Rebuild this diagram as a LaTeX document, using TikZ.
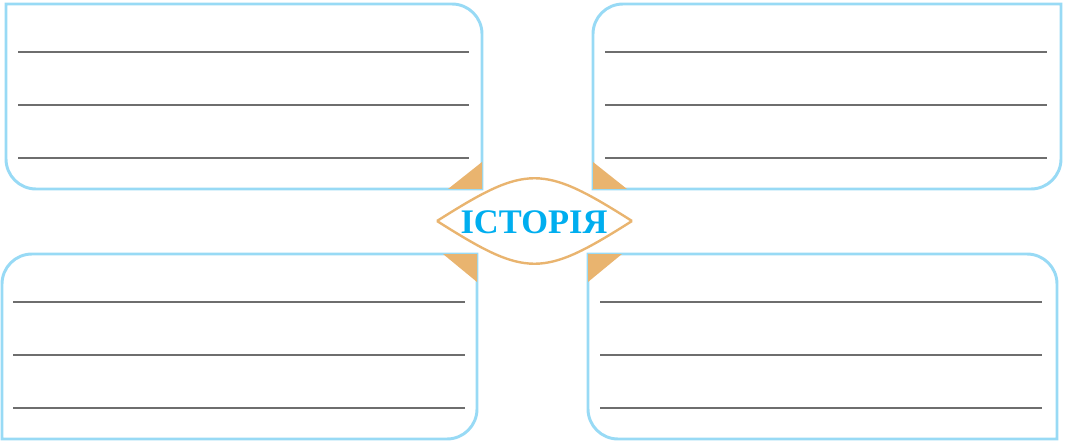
\documentclass[tikz,border=0pt]{standalone}
\usepackage{fontspec}
\usepackage{tikz}
\newfontfamily\titlefont{Liberation Serif}
\definecolor{boxblue}{HTML}{98DAF5}
\definecolor{tipgold}{HTML}{E9B46F}
\definecolor{titleblue}{HTML}{00AEEF}
\definecolor{rulegray}{HTML}{6E6E6E}

\begin{document}
\begin{tikzpicture}[x=0.025cm, y=0.025cm,
	box/.style={draw=boxblue, line width=2.1pt},
	rule/.style={draw=rulegray, line width=0.8pt},
	tip/.style={fill=tipgold},
	eye/.style={draw=tipgold, line width=1.7pt}]
			%%%%% START %%%%%
			\useasboundingbox (0, 0) rectangle (1065, 442);
			
			% top left
			\draw[box] (6, 438) -- (452, 438) arc (90:0:30) -- (482, 253) -- (36, 253) arc (270:180:30) -- cycle;
			\draw[rule] (18, 390) -- (469, 390);
			\draw[rule] (18, 337) -- (469, 337);
			\draw[rule] (18, 284) -- (469, 284);
			\fill[tip] (482, 253) -- (482, 280) -- (448, 253) -- cycle;
			
			% top right
			\draw[box] (1061, 438) -- (623, 438) arc (90:180:30) -- (593, 253) -- (1031, 253) arc (270:360:30) -- cycle;
			\draw[rule] (605, 390) -- (1047, 390);
			\draw[rule] (605, 337) -- (1047, 337);
			\draw[rule] (605, 284) -- (1047, 284);
			\fill[tip] (593, 253) -- (593, 280) -- (627, 253) -- cycle;
			
			% bottom left
			\draw[box] (2, 3) -- (447, 3) arc (270:360:30) -- (477, 188) -- (32, 188) arc (90:180:30) -- cycle;
			\draw[rule] (13, 140) -- (465, 140);
			\draw[rule] (13, 87) -- (465, 87);
			\draw[rule] (13, 34) -- (465, 34);
			\fill[tip] (477, 188) -- (443, 188) -- (477, 160) -- cycle;
			
			% bottom right
			\draw[box] (1057, 3) -- (618, 3) arc (270:180:30) -- (588, 188) -- (1027, 188) arc (90:0:30) -- cycle;
			\draw[rule] (600, 140) -- (1042, 140);
			\draw[rule] (600, 87) -- (1042, 87);
			\draw[rule] (600, 34) -- (1042, 34);
			\fill[tip] (588, 188) -- (622, 188) -- (588, 160) -- cycle;
			
			% centre
			\draw[eye] (437, 221) .. controls (527, 278) and (542, 278) .. (632, 221);
			\draw[eye] (437, 221) .. controls (527, 164) and (542, 164) .. (632, 221);
			\node[anchor=base, inner sep=0pt, text=titleblue, font=\titlefont\bfseries\fontsize{24.5}{24.5}\selectfont] (title) at (534, 209) {ІСТОРІЯ};
			%%%%% END %%%%%
\end{tikzpicture}
\end{document}
